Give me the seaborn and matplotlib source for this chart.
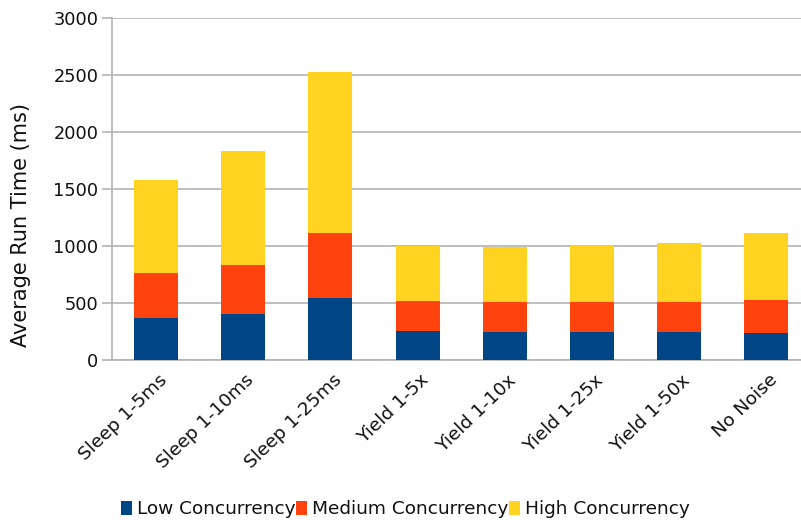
import matplotlib
matplotlib.use("Agg")
import matplotlib.pyplot as plt
import matplotlib.transforms as mtransforms
from matplotlib.patches import Patch
import seaborn as sns
import pandas as pd
import numpy as np

categories = ["Sleep 1-5ms", "Sleep 1-10ms", "Sleep 1-25ms", "Yield 1-5x",
              "Yield 1-10x", "Yield 1-25x", "Yield 1-50x", "No Noise"]
low = [370, 403, 546, 257, 245, 245, 245, 236]
medium = [394, 429, 566, 262, 266, 266, 266, 289]
high = [812, 1001, 1410, 482, 481, 499, 514, 590]
series_names = ["Low Concurrency", "Medium Concurrency", "High Concurrency"]
colors = ["#004586", "#ff420e", "#ffd320"]
yticks = [0, 500, 1000, 1500, 2000, 2500, 3000]

sns.set_theme(style="white")
plt.rcParams['font.family'] = ['DejaVu Sans']

df = pd.DataFrame({"cat": categories, "low": low, "medium": medium, "high": high})
df["c_low"] = df["low"]
df["c_med"] = df["low"] + df["medium"]
df["c_high"] = df["c_med"] + df["high"]

fig = plt.figure(figsize=(8.01, 5.20), dpi=100)
ax = fig.add_axes([112.4 / 801, (520 - 360) / 520, 697.6 / 801, 342 / 520])

for col, color in zip(["c_high", "c_med", "c_low"], colors[::-1]):
    sns.barplot(data=df, x="cat", y=col, color=color, width=0.505,
                saturation=1, ax=ax, zorder=3, linewidth=0, edgecolor="none")

ax.set_xlim(-0.5, len(categories) - 0.5)
ax.set_ylim(0, 3000)
ax.set_yticks(yticks)
ax.set_yticklabels([str(v) for v in yticks], fontsize=12.8, color="#111111")
ax.yaxis.grid(True, color="#b3b3b3", linewidth=1.2, zorder=0)
ax.set_axisbelow(True)

ax.set_xticks(range(len(categories)))
ax.set_xticklabels(categories, rotation=44, ha="right", rotation_mode="anchor",
                   fontsize=13.3, color="#111111")
ax.set_xticks(np.arange(-0.5, len(categories), 1.0), minor=True)
ax.tick_params(axis="x", which="major", length=0, pad=8)
ax.tick_params(axis="x", which="minor", length=6, color="#b3b3b3", width=1.2, direction="out")
ax.tick_params(axis="y", which="major", length=7, color="#b3b3b3", width=1.2, direction="out", left=True, pad=3)

ax.set_xlabel("")
ax.set_ylabel("Average Run Time (ms)", fontsize=15, color="#111111", labelpad=16)
ax.yaxis.label.set_y(0.395)

for s in ["top", "right"]:
    ax.spines[s].set_visible(False)
for s in ["left", "bottom"]:
    ax.spines[s].set_color("#b3b3b3")
    ax.spines[s].set_linewidth(1.2)

offset = mtransforms.ScaledTranslation(2 / 100, 0, fig.dpi_scale_trans)
for lbl in ax.get_xticklabels():
    lbl.set_transform(lbl.get_transform() + offset)

handles = [Patch(facecolor=c, edgecolor="none") for c in colors]
fig.legend(handles, series_names, loc="center", bbox_to_anchor=(0.506, 11 / 520),
           ncol=3, frameon=False, fontsize=13.3, handlelength=0.6, handleheight=0.8,
           handletextpad=0.25, columnspacing=0.05, labelcolor="#111111")

fig.savefig("out.png", dpi=100)
